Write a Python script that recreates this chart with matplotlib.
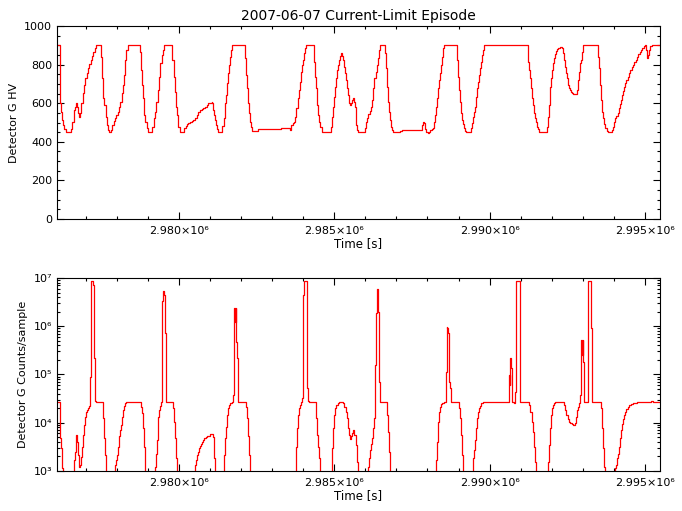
import numpy as np
import matplotlib
matplotlib.use('Agg')
import matplotlib.pyplot as plt
from matplotlib.ticker import MultipleLocator, FixedLocator, LogLocator, NullFormatter

# time base [s]; all time arrays are offsets from it
T0 = 2976000
B = 300  # counts below the plotted range (off axis)

# Detector G HV
hv_t = [93, 168, 179, 200, 243, 275, 307, 361, 522, 565,
        608, 629, 662, 683, 715, 737, 780, 822, 855, 898,
        941, 983, 1026, 1069, 1112, 1155, 1198, 1241, 1284, 1327,
        1466, 1477, 1520, 1563, 1595, 1638, 1670, 1702, 1745, 1810,
        1853, 1895, 1938, 1981, 2024, 2067, 2110, 2153, 2196, 2239,
        2271, 2303, 2346, 2722, 2743, 2775, 2818, 2850, 2883, 2915,
        2958, 3001, 3140, 3183, 3226, 3269, 3312, 3355, 3398, 3441,
        3473, 3516, 3763, 3784, 3827, 3870, 3902, 3934, 3977, 4020,
        4170, 4213, 4256, 4299, 4353, 4406, 4460, 4514, 4567, 4621,
        4675, 4728, 4782, 4836, 4889, 4943, 5052, 5073, 5105, 5137,
        5170, 5202, 5234, 5266, 5395, 5438, 5481, 5524, 5556, 5588,
        5620, 5652, 5685, 5717, 6103, 6125, 6157, 6189, 6221, 6253,
        6286, 6318, 6361, 6532, 6554, 7283, 7584, 7616, 7659, 7702,
        7734, 7777, 7820, 7852, 7884, 7917, 7949, 7981, 8013, 8045,
        8078, 8324, 8356, 8389, 8421, 8453, 8485, 8517, 8550, 8593,
        8861, 8882, 8914, 8947, 8979, 9011, 9043, 9075, 9108, 9140,
        9172, 9204, 9236, 9269, 9301, 9333, 9365, 9397, 9430, 9462,
        9494, 9526, 9558, 9590, 9623, 9655, 9687, 9699, 9731, 9764,
        9989, 10021, 10053, 10096, 10139, 10182, 10225, 10257, 10289, 10332,
        10364, 10397, 10429, 10461, 10611, 10633, 10665, 10697, 10729, 10761,
        10794, 10826, 10858, 10890, 11094, 11116, 11169, 11813, 11835, 11867,
        11899, 11931, 11963, 12006, 12049, 12092, 12135, 12178, 12221, 12253,
        12285, 12317, 12350, 12382, 12414, 12446, 12478, 12510, 12543, 12940,
        12961, 12993, 13026, 13058, 13090, 13122, 13154, 13186, 13219, 13251,
        13390, 13412, 13444, 13476, 13508, 13541, 13573, 13605, 13637, 13669,
        13701, 13734, 13766, 13798, 13830, 15216, 15237, 15270, 15302, 15334,
        15366, 15398, 15431, 15463, 15495, 15527, 15559, 15591, 15624, 15828,
        15849, 15881, 15913, 15946, 15978, 16010, 16042, 16074, 16107, 16139,
        16171, 16214, 16267, 16321, 16353, 16385, 16418, 16450, 16482, 16514,
        16546, 16579, 16611, 16643, 16675, 16804, 16815, 16847, 16879, 16911,
        16943, 16976, 17008, 17480, 17501, 17534, 17566, 17598, 17630, 17662,
        17695, 17727, 17770, 17813, 17888, 17931, 17974, 18006, 18038, 18081,
        18124, 18167, 18199, 18231, 18263, 18295, 18328, 18360, 18403, 18446,
        18489, 18531, 18574, 18617, 18660, 18703, 18746, 18789, 18832, 18875,
        18918, 18961, 19004, 19047, 19079, 19111, 19143, 19175, 19218, 19600]
hv_v = [900, 900, 599, 556, 513, 487, 465, 449, 465, 504,
        530, 565, 582, 599, 582, 547, 530, 547, 599, 651,
        694, 729, 755, 781, 801, 824, 846, 867, 884, 900,
        900, 841, 729, 625, 591, 530, 487, 461, 449, 461,
        487, 508, 525, 539, 556, 582, 608, 651, 694, 746,
        824, 876, 900, 900, 867, 772, 694, 625, 539, 501,
        470, 449, 478, 522, 556, 608, 668, 737, 807, 850,
        876, 900, 900, 824, 737, 660, 582, 539, 478, 449,
        470, 484, 490, 496, 501, 508, 513, 522, 539, 556,
        565, 570, 577, 582, 591, 599, 608, 599, 565, 539,
        513, 487, 465, 449, 484, 522, 599, 642, 703, 755,
        798, 841, 876, 900, 900, 832, 746, 677, 599, 547,
        501, 478, 456, 461, 465, 470, 461, 487, 496, 504,
        530, 573, 625, 668, 712, 763, 798, 824, 858, 884,
        900, 900, 815, 737, 677, 591, 539, 501, 478, 452,
        452, 478, 530, 582, 634, 686, 729, 772, 798, 824,
        846, 858, 846, 824, 789, 755, 720, 677, 642, 599,
        591, 599, 617, 625, 608, 582, 539, 487, 461, 449,
        470, 501, 522, 542, 560, 582, 617, 677, 729, 763,
        798, 832, 876, 900, 900, 858, 781, 686, 608, 556,
        513, 478, 461, 449, 449, 456, 463, 463, 487, 501,
        496, 466, 452, 447, 452, 461, 466, 470, 501, 539,
        582, 625, 677, 720, 755, 798, 841, 884, 900, 900,
        824, 737, 668, 608, 547, 513, 490, 470, 458, 449,
        449, 470, 496, 530, 556, 582, 634, 677, 712, 746,
        781, 815, 850, 876, 900, 900, 815, 772, 729, 677,
        625, 591, 547, 522, 501, 478, 465, 452, 449, 449,
        478, 530, 591, 686, 729, 772, 807, 832, 853, 870,
        881, 888, 889, 884, 858, 824, 789, 755, 729, 694,
        677, 668, 660, 655, 648, 646, 668, 720, 763, 807,
        824, 867, 900, 900, 841, 781, 694, 617, 556, 522,
        490, 470, 456, 449, 452, 461, 478, 501, 522, 535,
        547, 573, 594, 617, 642, 663, 686, 703, 720, 737,
        755, 772, 786, 798, 812, 824, 839, 853, 864, 876,
        884, 894, 900, 876, 832, 850, 876, 894, 900, 900]

# Detector G counts per sample
cnt_t = [93, 168, 200, 232, 265, 608, 640, 672, 694, 726,
         747, 769, 801, 833, 865, 898, 930, 962, 994, 1026,
         1059, 1091, 1123, 1144, 1166, 1209, 1241, 1262, 1284, 1305,
         1338, 1531, 1552, 1584, 1617, 1638, 1938, 1971, 2003, 2035,
         2067, 2099, 2131, 2164, 2196, 2228, 2260, 2303, 2754, 2775,
         2797, 2829, 2861, 2893, 2915, 3226, 3258, 3290, 3323, 3355,
         3387, 3419, 3441, 3462, 3494, 3516, 3548, 3580, 3612, 3784,
         3816, 3848, 3880, 3913, 3945, 4514, 4546, 4578, 4610, 4642,
         4675, 4707, 4739, 4771, 4814, 4857, 4900, 4943, 4998, 5052,
         5084, 5116, 5148, 5449, 5481, 5513, 5545, 5577, 5610, 5652,
         5695, 5728, 5760, 5781, 5803, 5824, 5846, 5867, 5889, 6125,
         6157, 6189, 6221, 6253, 6286, 7756, 7788, 7820, 7852, 7884,
         7917, 7960, 7981, 8003, 8024, 8099, 8110, 8131, 8163, 8196,
         8378, 8399, 8432, 8464, 8496, 8528, 8925, 8957, 8990, 9022,
         9065, 9108, 9151, 9215, 9269, 9322, 9365, 9408, 9451, 9483,
         9515, 9548, 9580, 9612, 9644, 9687, 9719, 9751, 10075, 10107,
         10139, 10171, 10204, 10236, 10268, 10300, 10322, 10343, 10364, 10397,
         10418, 10440, 10461, 10654, 10686, 10719, 10751, 10783, 12264, 12296,
         12328, 12360, 12392, 12425, 12468, 12543, 12596, 12618, 12639, 12661,
         12682, 12704, 12725, 12747, 12768, 12994, 13026, 13058, 13090, 13122,
         13154, 13476, 13508, 13541, 13573, 13605, 13637, 13669, 13701, 13734,
         13798, 14604, 14626, 14647, 14669, 14690, 14712, 14797, 14830, 14862,
         14948, 14969, 14991, 15248, 15280, 15313, 15355, 15388, 15420, 15452,
         15484, 15870, 15903, 15935, 15967, 15999, 16031, 16064, 16107, 16343,
         16385, 16428, 16471, 16514, 16557, 16600, 16643, 16697, 16750, 16783,
         16815, 16847, 16879, 16911, 16933, 16954, 16976, 16997, 17019, 17040,
         17158, 17180, 17244, 17265, 17297, 17555, 17577, 17609, 17641, 17673,
         17705, 18038, 18070, 18103, 18135, 18167, 18199, 18231, 18263, 18295,
         18328, 18360, 18403, 18446, 18489, 18553, 18628, 18735, 19165, 19186,
         19272, 19600]
cnt_v = [27000, 4750, 2950, 1170, B, 1690, 2500, 4060, 5600, 4060,
         2150, 1230, 1330, 1980, 3200, 5600, 9000, 13400, 17000, 18400,
         20500, 22600, 23300, 90000, 8.5e6, 8.5e6, 7.2e6, 2.16e5, 32000, 28000,
         26500, 26500, 12400, 4750, 2150, B, 1330, 1690, 2150, 3200,
         5200, 7100, 9000, 13400, 18400, 22600, 25200, 26500, 26500, 21500,
         15700, 7700, 3200, 1560, B, 1230, 2300, 4400, 13400, 18400,
         22600, 27400, 52000, 3.3e6, 5.4e6, 4.4e6, 7.1e5, 27400, 26500, 26500,
         19900, 10500, 4750, 1830, B, 1330, 1690, 2150, 2500, 2950,
         3350, 3700, 4060, 4400, 4750, 5000, 5200, 5400, 5800, 5900,
         5000, 1830, B, 2150, 4750, 8300, 14500, 19900, 23300, 25200,
         27400, 38000, 5.2e5, 2.35e6, 1.24e6, 2.35e6, 4.8e5, 2.16e5, 26500, 26500,
         21500, 12400, 5200, 2150, B, 3200, 7700, 14500, 19900, 23300,
         27400, 32000, 1.57e5, 4.4e6, 8.5e6, 8.5e6, 4.8e5, 52000, 28000, 26500,
         26500, 12400, 5600, 3200, 1830, B, 2950, 7700, 14500, 19900,
         23300, 25200, 26500, 27400, 25200, 21500, 17000, 12400, 7700, 5600,
         4600, 5200, 6000, 7100, 5600, 3460, 1560, B, 1230, 1830,
         2700, 3700, 4750, 7700, 12400, 27400, 1.57e5, 1.85e6, 5.9e6, 5.9e6,
         2.0e6, 71000, 26500, 26500, 14500, 6500, 2500, B, 1690, 4060,
         10500, 17000, 21500, 24100, 25200, 27400, 1.15e5, 9.8e5, 9.1e5, 7.1e5,
         2.5e5, 71000, 52000, 44000, 26500, 26500, 19900, 12400, 5600, 2150,
         B, 1830, 2700, 4400, 7700, 12400, 17000, 19900, 22600, 25200,
         26500, 26500, 98000, 61000, 2.16e5, 1.34e5, 26500, 26000, 44000, 8.5e6,
         8.5e6, 2.5e5, 26500, 26500, 23300, 17000, 10500, 6500, 3200, 1560,
         B, 1560, 3460, 7700, 14500, 19900, 23300, 25200, 26500, 26500,
         23300, 18400, 14500, 12000, 10500, 9700, 9300, 9000, 9700, 13400,
         18400, 21500, 25200, 38000, 2.16e5, 5.2e5, 2.5e5, 5.2e5, 1.85e5, 26500,
         26500, 8.5e6, 8.5e6, 9.1e5, 26500, 26500, 19900, 7700, 2950, 1230,
         B, 1140, 1330, 1830, 2300, 3200, 4750, 7100, 9300, 12000,
         14500, 17000, 19300, 21500, 23300, 24600, 25200, 26500, 26500, 28000,
         26500, 26500]

x_ticks = [2.980e6, 2.985e6, 2.990e6, 2.995e6]
x_ticklabels = ['2.980×10⁶', '2.985×10⁶', '2.990×10⁶', '2.995×10⁶']
cnt_ticks = [1e3, 1e4, 1e5, 1e6, 1e7]
cnt_ticklabels = ['10³', '10⁴', '10⁵', '10⁶', '10⁷']

t_hv = T0 + np.array(hv_t)
t_cnt = T0 + np.array(cnt_t)
xlim = (2976070, 2995490)

plt.rcParams['font.family'] = 'DejaVu Sans'
plt.rcParams['font.size'] = 8

fig = plt.figure(figsize=(6.82, 5.11), dpi=100)
ax1 = fig.add_axes([0.0836, 0.5714, 0.8842, 0.3777])
ax2 = fig.add_axes([0.0836, 0.0783, 0.8842, 0.3777])


def style_axes(ax):
    ax.set_xlim(*xlim)
    ax.xaxis.set_major_locator(FixedLocator(x_ticks))
    ax.set_xticklabels(x_ticklabels)
    ax.xaxis.set_minor_locator(MultipleLocator(1000))
    ax.tick_params(which='both', direction='in', top=True, right=True,
                   width=0.8, labelsize=8)
    ax.tick_params(which='major', length=5)
    ax.tick_params(which='minor', length=2.5)
    ax.tick_params(axis='x', pad=5)
    for s in ax.spines.values():
        s.set_linewidth(0.8)
    ax.set_xlabel('Time [s]', fontsize=8.5, labelpad=1)


# top panel: HV
ax1.plot(t_hv, hv_v, color='red', lw=0.9, drawstyle='steps-post')
style_axes(ax1)
ax1.set_ylim(0, 1000)
ax1.yaxis.set_major_locator(MultipleLocator(200))
ax1.yaxis.set_minor_locator(MultipleLocator(50))
ax1.set_ylabel('Detector G HV', fontsize=8)
ax1.set_title('2007-06-07 Current-Limit Episode', fontsize=10, pad=4)

# bottom panel: counts (log)
ax2.plot(t_cnt, cnt_v, color='red', lw=0.9, drawstyle='steps-post')
style_axes(ax2)
ax2.set_yscale('log')
ax2.set_ylim(1e3, 1e7)
ax2.yaxis.set_major_locator(FixedLocator(cnt_ticks))
ax2.set_yticklabels(cnt_ticklabels)
ax2.yaxis.set_minor_locator(LogLocator(base=10, subs=np.arange(2, 10)))
ax2.yaxis.set_minor_formatter(NullFormatter())
ax2.set_ylabel('Detector G Counts/sample', fontsize=8)

fig.savefig('out.png', dpi=100)
